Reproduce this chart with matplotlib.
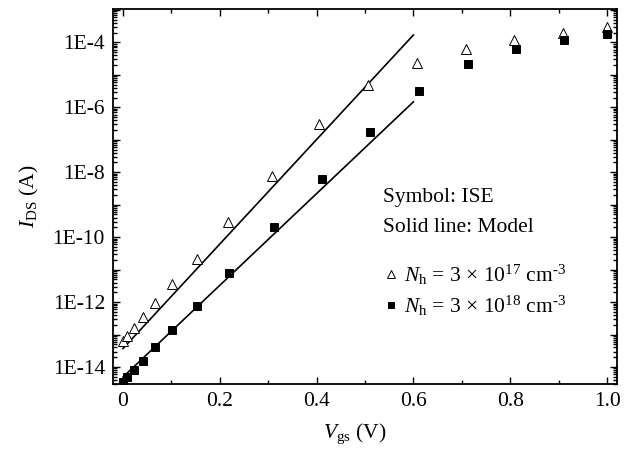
import matplotlib
matplotlib.use("Agg")
import matplotlib.pyplot as plt
from matplotlib.ticker import LogLocator, FuncFormatter, MultipleLocator, NullFormatter
from matplotlib.lines import Line2D
import numpy as np

plt.rcParams['font.family'] = ['Liberation Serif', 'DejaVu Serif']
plt.rcParams['mathtext.fontset'] = 'custom'
plt.rcParams['mathtext.rm'] = 'Liberation Serif'
plt.rcParams['mathtext.it'] = 'Liberation Serif:italic'

# ISE simulation points, Nh = 3e17 cm^-3 (open triangles)
vgs_17 = [0.0, 0.008, 0.022, 0.041, 0.067, 0.102, 0.152, 0.217, 0.308, 0.405,
          0.507, 0.607, 0.708, 0.808, 0.908, 1.0]
ids_17 = [6.4e-14, 9.1e-14, 1.6e-13, 3.4e-13, 9.3e-13, 3.6e-12, 2.2e-11, 2.9e-10,
          7.9e-9, 3.0e-7, 4.9e-6, 2.3e-5, 6.1e-5, 1.17e-4, 2.0e-4, 3.0e-4]

# ISE simulation points, Nh = 3e18 cm^-3 (filled squares)
vgs_18 = [0.0, 0.008, 0.022, 0.041, 0.067, 0.102, 0.153, 0.22, 0.311, 0.411,
          0.511, 0.611, 0.712, 0.812, 0.912, 1.0]
ids_18 = [3.4e-15, 4.9e-15, 7.9e-15, 1.5e-14, 4.0e-14, 1.35e-13, 7.6e-13, 8.1e-12,
          2.1e-10, 6.2e-9, 1.7e-7, 3.2e-6, 2.1e-5, 6.1e-5, 1.15e-4, 1.8e-4]

# subthreshold model (straight lines on the log scale)
model_vgs = [0.0, 0.6]
model_ids_17 = [3.7e-14, 1.7e-4]
model_ids_18 = [4.9e-15, 1.48e-6]

fig = plt.figure(figsize=(6.33, 4.49), dpi=100)
ax = fig.add_axes([0.179, 0.1448, 0.7953, 0.8345])

ax.plot(model_vgs, model_ids_17, color='black', lw=1.2)
ax.plot(model_vgs, model_ids_18, color='black', lw=1.2)
ax.plot(vgs_17, ids_17, linestyle='none', marker='^', ms=7.5, mfc='white',
        mec='black', mew=0.7)
ax.plot(vgs_18, ids_18, linestyle='none', marker='s', ms=6, mfc='black',
        mec='black', mew=0.7)

ax.set_yscale('log')
ax.set_xlim(-0.02, 1.02)
ax.set_ylim(3e-15, 1.05e-3)

ax.xaxis.set_major_locator(MultipleLocator(0.2))
ax.xaxis.set_minor_locator(MultipleLocator(0.1))
ax.xaxis.set_major_formatter(FuncFormatter(lambda v, p: '0' if abs(v) < 1e-9 else f'{v:.1f}'))

ax.yaxis.set_major_locator(LogLocator(base=10, numticks=30))
ax.yaxis.set_minor_locator(LogLocator(base=10, subs=np.arange(2, 10), numticks=30))
ax.yaxis.set_minor_formatter(NullFormatter())


def ylab(v, p):
    e = int(round(np.log10(v)))
    return f'1E{e}' if e % 2 == 0 else ''


ax.yaxis.set_major_formatter(FuncFormatter(ylab))

ax.tick_params(which='both', direction='in', top=True, right=True, width=1.0,
               labelsize=15.5, pad=6)
ax.tick_params(which='major', length=5)
ax.tick_params(which='minor', length=3)
for s in ax.spines.values():
    s.set_linewidth(1.3)

ax.set_xlabel(r'$V_{\mathrm{gs}}$ (V)', fontsize=15.5)
ax.set_ylabel(r'$I_{\mathrm{DS}}$ (A)', fontsize=15.5, labelpad=8)
ax.xaxis.set_label_coords(0.48, -0.1)

ax.text(0.535, 0.487, 'Symbol: ISE', transform=ax.transAxes, fontsize=15.5)
ax.text(0.535, 0.405, 'Solid line: Model', transform=ax.transAxes, fontsize=15.5)

handles = [
    Line2D([], [], linestyle='none', marker='^', ms=6, mfc='white', mec='black', mew=0.7),
    Line2D([], [], linestyle='none', marker='s', ms=5, mfc='black', mec='black', mew=0.7),
]
labels = ['$N_{\\mathrm{h}}$ = 3 × 10$^{17}$ cm$^{\u2010\\mathrm{3}}$',
          '$N_{\\mathrm{h}}$ = 3 × 10$^{18}$ cm$^{\u2010\\mathrm{3}}$']
ax.legend(handles, labels, loc='upper left', bbox_to_anchor=(0.53, 0.335),
          frameon=False, fontsize=15.5, handlelength=0.6, handletextpad=0.3,
          labelspacing=0.3, borderpad=0.2, borderaxespad=0)

fig.savefig('out.png', dpi=100)
